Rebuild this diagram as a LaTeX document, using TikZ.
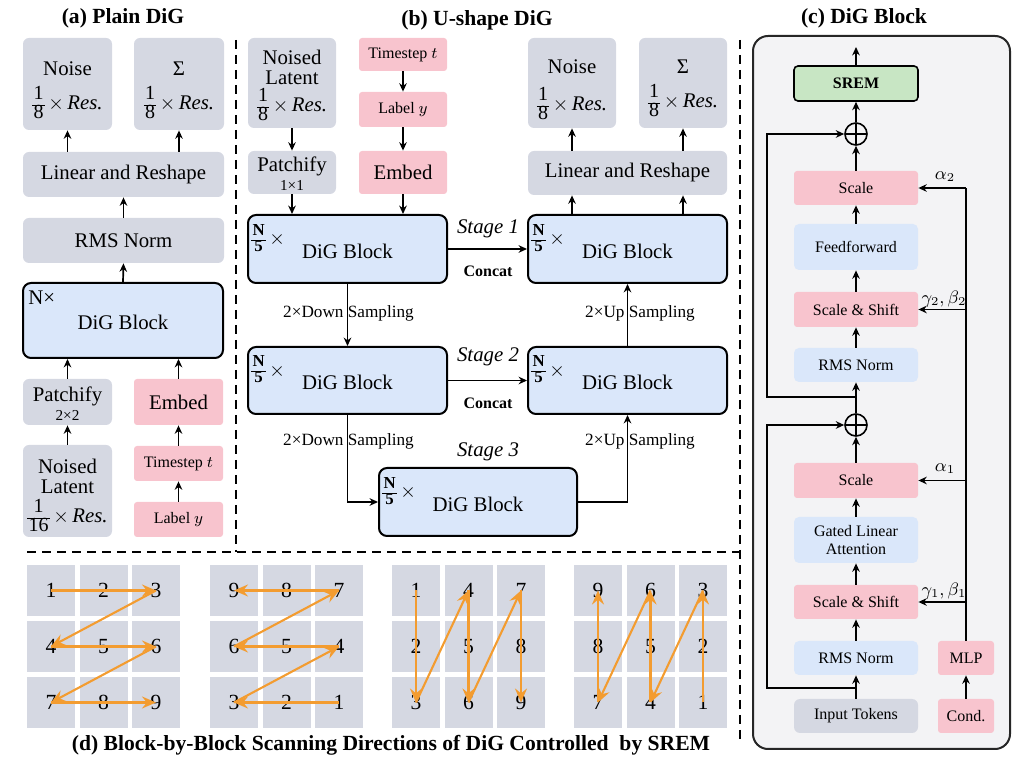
\documentclass[tikz,border=0pt]{standalone}
\usepackage{amsmath}
\usepackage{fontspec}
\setmainfont{Liberation Serif}
\usetikzlibrary{arrows.meta}
\definecolor{boxgray}{RGB}{213,216,226}
\definecolor{boxpink}{RGB}{248,196,206}
\definecolor{boxblue}{RGB}{218,231,250}
\definecolor{boxgreen}{RGB}{200,230,196}
\definecolor{panelbg}{RGB}{243,243,245}
\definecolor{scanorange}{RGB}{243,156,48}
\newcommand{\stk}[3]{$\vcenter{\hbox{\fontsize{#3}{#3}\selectfont\renewcommand{\arraystretch}{0.9}\setlength{\tabcolsep}{0.6pt}\begin{tabular}{c}#1\\\hline #2\end{tabular}}}$}
\newcommand{\myfr}[2]{\stk{#1}{#2}{10}\,$\times$\,\textit{Res.}}
\newcommand{\nfive}{\stk{\bfseries N}{\bfseries 5}{8.4}\,$\times$}
\begin{document}
\begin{tikzpicture}[x=0.5pt,y=-0.5pt,
  sz/.style 2 args={minimum width=#1*0.5pt,minimum height=#2*0.5pt},
  tm/.style={font=\fontsize{10.4}{12.5}\selectfont},
  ts/.style={font=\fontsize{8}{9.6}\selectfont},
  tl/.style={font=\fontsize{7.6}{9}\selectfont},
  ttl/.style={font=\fontsize{10.8}{13}\selectfont\bfseries},
  gbox/.style={fill=boxgray,rounded corners=3pt,inner sep=0pt,tm},
  pbox/.style={fill=boxpink,rounded corners=1.5pt,inner sep=0pt,tm},
  lbox/.style={fill=boxblue,rounded corners=2.5pt,inner sep=0pt,ts},
  dig/.style={fill=boxblue,draw=black,line width=1pt,rounded corners=4pt,inner sep=0pt,tm},
  txt/.style={inner sep=0pt,tm},
  arr/.style={-{Stealth[length=4.2pt,width=3.8pt]},line width=0.85pt},
  plain/.style={line width=0.85pt},
  dline/.style={line width=0.9pt,dash pattern=on 4.5pt off 3pt},
  cell/.style={fill=boxgray,minimum width=24pt,minimum height=25.5pt,inner sep=0pt,font=\fontsize{10.8}{13}\selectfont},
  scan/.style={-{Stealth[length=7pt,width=6pt,inset=2.4pt]},line width=1.05pt,draw=scanorange},
  oplus/.style={circle,draw,line width=0.8pt,minimum size=11pt,inner sep=0pt,
    path picture={\draw[line width=0.8pt] (path picture bounding box.north) -- (path picture bounding box.south)
      (path picture bounding box.west) -- (path picture bounding box.east);}}
]
\path[use as bounding box] (0,0) rectangle (1024,764);

% ---------------- separators
\draw[dline] (236,40) -- (236,552);
\draw[dline] (27,552) -- (740,552);
\draw[dline] (740,40) -- (740,745);

% ---------------- (a) Plain DiG
\node[ttl] (ta) at (123,18) {(a) Plain DiG};
\node[gbox,sz={89}{92}] (aNoise) at (67.5,84) {};
\node[txt] (aNoiseT) at (67.5,69) {Noise};
\node[txt] (aNoiseF) at (67.5,105) {\myfr{1}{8}};
\node[gbox,sz={90}{92}] (aSig) at (179,84) {};
\node[txt] (aSigT) at (179,69) {Σ};
\node[txt] (aSigF) at (179,105) {\myfr{1}{8}};
\node[gbox,sz={201}{45}] (aLin) at (123.5,174.5) {Linear and Reshape};
\node[gbox,sz={201}{45}] (aRMS) at (123.5,240.5) {RMS Norm};
\node[dig,sz={200}{75}] (aDiG) at (123,320.5) {};
\node[txt,anchor=west] (aN) at (28,298) {N×};
\node[txt] (aDiGT) at (123,322) {DiG Block};
\node[gbox,sz={89}{46}] (aPat) at (67.5,402) {};
\node[txt] (aPatT) at (67.5,396) {Patchify};
\node[txt,tl] (aPatS) at (67.5,415) {2×2};
\node[pbox,sz={89}{46}] (aEmb) at (178.5,402) {Embed};
\node[gbox,sz={89}{92}] (aNL) at (67.5,491) {};
\node[txt] (aNL1) at (67.5,466) {Noised};
\node[txt] (aNL2) at (67.5,487) {Latent};
\node[txt] (aNL3) at (67.5,518) {\myfr{1}{16}};
\node[pbox,ts,sz={89}{35}] (aTs) at (178.5,463.5) {Timestep $t$};
\node[pbox,ts,sz={89}{35}] (aLab) at (178.5,519.5) {Label $y$};

\draw[arr] (aLin.north -| aNoise) -- (aNoise.south);
\draw[arr] (aLin.north -| aSig) -- (aSig.south);
\draw[arr] (aRMS.north) -- (aLin.south);
\draw[arr] (aDiG.north) -- (aRMS.south);
\draw[arr] (aPat.north) -- (aPat.north |- aDiG.south);
\draw[arr] (aEmb.north) -- (aEmb.north |- aDiG.south);
\draw[arr] (aNL.north) -- (aPat.south);
\draw[arr] (aLab.north) -- (aTs.south);
\draw[arr] (aTs.north) -- (aEmb.south);

% ---------------- (b) U-shape DiG
\node[ttl] (tb) at (477,20) {(b) U-shape DiG};
\node[gbox,sz={88}{90}] (bNL) at (292,83) {};
\node[txt] (bNL1) at (292,57) {Noised};
\node[txt] (bNL2) at (292,78) {Latent};
\node[txt] (bNL3) at (292,107) {\myfr{1}{8}};
\node[pbox,ts,sz={88}{33}] (bTs) at (403,54.5) {Timestep $t$};
\node[pbox,ts,sz={88}{35}] (bLab) at (403,109.5) {Label $y$};
\node[gbox,sz={88}{43}] (bPat) at (292,172.5) {};
\node[txt] (bPatT) at (292,166) {Patchify};
\node[txt,tl] (bPatS) at (292,185) {1×1};
\node[pbox,sz={88}{43}] (bEmb) at (403,172.5) {Embed};
\node[gbox,sz={88}{90}] (bNoise) at (572,83) {};
\node[txt] (bNoiseT) at (572,67) {Noise};
\node[txt] (bNoiseF) at (572,106) {\myfr{1}{8}};
\node[gbox,sz={88}{90}] (bSig) at (683,83) {};
\node[txt] (bSigT) at (683,67) {Σ};
\node[txt] (bSigF) at (683,103) {\myfr{1}{8}};
\node[gbox,sz={199}{44}] (bLin) at (627.5,173) {Linear and Reshape};

\node[dig,sz={199}{68}] (bD1L) at (347.5,249) {};
\node[dig,sz={199}{68}] (bD1R) at (627.5,249) {};
\node[dig,sz={199}{67}] (bD2L) at (347.5,380.5) {};
\node[dig,sz={199}{67}] (bD2R) at (627.5,380.5) {};
\node[dig,sz={198}{68}] (bD3) at (478,502) {};
\foreach \b in {bD1L,bD1R,bD2L,bD2R,bD3}{
  \node[txt] (\b T) at ([yshift=-1pt]\b.center) {DiG Block};
  \node[txt,anchor=west] (\b N) at ([xshift=2pt,yshift=4.5pt]\b.west) {\nfive};
}
\node[txt,font=\fontsize{10.4}{12}\selectfont\itshape] (st1) at (488,229) {Stage 1};
\node[txt,font=\fontsize{8}{10}\selectfont\bfseries] (cc1) at (488,271) {Concat};
\node[txt,font=\fontsize{10.4}{12}\selectfont\itshape] (st2) at (488,357) {Stage 2};
\node[txt,font=\fontsize{8}{10}\selectfont\bfseries] (cc2) at (488,403) {Concat};
\node[txt,font=\fontsize{10.4}{12}\selectfont\itshape] (st3) at (488,452) {Stage 3};
\node[txt,font=\fontsize{8.6}{10}\selectfont] (ds1) at (348.5,313) {2×Down Sampling};
\node[txt,font=\fontsize{8.6}{10}\selectfont] (ds2) at (348.5,441) {2×Down Sampling};
\node[txt,font=\fontsize{8.6}{10}\selectfont] (us1) at (640,313) {2×Up Sampling};
\node[txt,font=\fontsize{8.6}{10}\selectfont] (us2) at (640,441) {2×Up Sampling};

\draw[arr] (bNL.south) -- (bPat.north);
\draw[arr] (bTs.south) -- (bLab.north);
\draw[arr] (bLab.south) -- (bEmb.north);
\draw[arr] (bPat.south) -- (bPat.south |- bD1L.north);
\draw[arr] (bEmb.south) -- (bEmb.south |- bD1L.north);
\draw[arr] (bD1R.north -| bNoise) -- (bLin.south -| bNoise);
\draw[arr] (bD1R.north -| bSig) -- (bLin.south -| bSig);
\draw[arr] (bLin.north -| bNoise) -- (bNoise.south);
\draw[arr] (bLin.north -| bSig) -- (bSig.south);
\draw[arr] (bD1L.east) -- (bD1R.west);
\draw[arr] (bD2L.east) -- (bD2R.west);
\draw[arr] (bD1L.south) -- (bD2L.north);
\draw[arr] (bD2L.south) |- (bD3.west);
\draw[arr] (bD3.east) -| (bD2R.south);
\draw[arr] (bD2R.north) -- (bD1R.south);

% ---------------- (c) DiG Block
\node[ttl] (tc) at (864,18) {(c) DiG Block};
\draw[draw=black!85,line width=1pt,fill=panelbg,rounded corners=7.5pt] (753,36) rectangle (1010,749);
\node[fill=boxgreen,draw=black,line width=0.8pt,rounded corners=2pt,inner sep=0pt,sz={124}{35},font=\fontsize{8}{10}\selectfont\bfseries] (cSREM) at (856,83.5) {SREM};
\coordinate (cOut) at (856,47);
\node[oplus] (cP2) at (856,134) {};
\node[pbox,ts,sz={124}{34}] (cSc2) at (856,188) {Scale};
\node[lbox,sz={124}{46}] (cFF) at (856,247) {Feedforward};
\node[pbox,ts,sz={124}{35}] (cSS2) at (856,309.5) {Scale \& Shift};
\node[lbox,sz={124}{34}] (cRMS2) at (856,365) {RMS Norm};
\node[oplus] (cP1) at (856,425) {};
\node[pbox,ts,sz={124}{35}] (cSc1) at (856,480.5) {Scale};
\node[lbox,sz={124}{46},align=center] (cGLA) at (856,540) {Gated Linear\\[-1pt]Attention};
\node[pbox,ts,sz={124}{34}] (cSS1) at (856,602) {Scale \& Shift};
\node[lbox,sz={124}{34}] (cRMS1) at (856,658) {RMS Norm};
\node[gbox,ts,sz={124}{34}] (cIn) at (856,716) {Input Tokens};
\node[pbox,ts,sz={56}{34}] (cMLP) at (966,658) {MLP};
\node[pbox,ts,sz={56}{34}] (cCond) at (966,716) {Cond.};

\draw[arr] (cIn.north) -- (cRMS1.south);
\draw[arr] (cRMS1.north) -- (cSS1.south);
\draw[arr] (cSS1.north) -- (cGLA.south);
\draw[arr] (cGLA.north) -- (cSc1.south);
\draw[arr] (cSc1.north) -- (cP1.south);
\draw[arr] (cP1.north) -- (cRMS2.south);
\draw[arr] (cRMS2.north) -- (cSS2.south);
\draw[arr] (cSS2.north) -- (cFF.south);
\draw[arr] (cFF.north) -- (cSc2.south);
\draw[arr] (cSc2.north) -- (cP2.south);
\draw[arr] (cP2.north) -- (cSREM.south);
\draw[arr] (cSREM.north) -- (cOut);

\coordinate (cS1) at (856,688);
\coordinate (cS2) at (856,397);
\coordinate (cL) at (767,0);
\draw[arr] (cS1) -- (cS1 -| cL) |- (cP1.west);
\draw[arr] (cS2) -- (cS2 -| cL) |- (cP2.west);

\draw[arr] (cCond.north) -- (cMLP.south);
\coordinate (cT) at (966,188);
\draw[plain] (cMLP.north) -- (cT);
\draw[arr] (cT) -- (cSc2.east);
\draw[arr] (cSS2.east -| cT) -- (cSS2.east);
\draw[arr] (cSc1.east -| cT) -- (cSc1.east);
\draw[arr] (cSS1.east -| cT) -- (cSS1.east);
\node[txt,font=\fontsize{9}{10}\selectfont] (la2) at (945,177) {$\alpha_2$};
\node[txt,font=\fontsize{9}{10}\selectfont] (lg2) at (944,299) {$\mathrm{\gamma}_2,\beta_2$};
\node[txt,font=\fontsize{9}{10}\selectfont] (la1) at (945,469) {$\alpha_1$};
\node[txt,font=\fontsize{9}{10}\selectfont] (lg1) at (944,591) {$\mathrm{\gamma}_1,\beta_1$};

% ---------------- (d) scanning directions
\foreach \g/\gx in {1/27,2/210,3/392,4/574}{
  \foreach \r in {0,1,2}{
    \foreach \c in {0,1,2}{
      \pgfmathtruncatemacro{\n}{\g==1 ? 3*\r+\c+1 : (\g==2 ? 9-3*\r-\c : (\g==3 ? 3*\c+\r+1 : 9-3*\c-\r))}
      \node[cell] (g\g-\n) at ({\gx+24+52.5*\c},{590.5+56*\r}) {\n};
    }
  }
  \draw[scan] (g\g-1.center) -- (g\g-3.center);
  \draw[scan] (g\g-3.center) -- (g\g-4.center);
  \draw[scan] (g\g-4.center) -- (g\g-6.center);
  \draw[scan] (g\g-6.center) -- (g\g-7.center);
  \draw[scan] (g\g-7.center) -- (g\g-9.center);
}
\node[ttl] (td) at (391,745) {(d) Block-by-Block Scanning Directions of DiG Controlled\ \ by SREM};
\end{tikzpicture}
\end{document}
